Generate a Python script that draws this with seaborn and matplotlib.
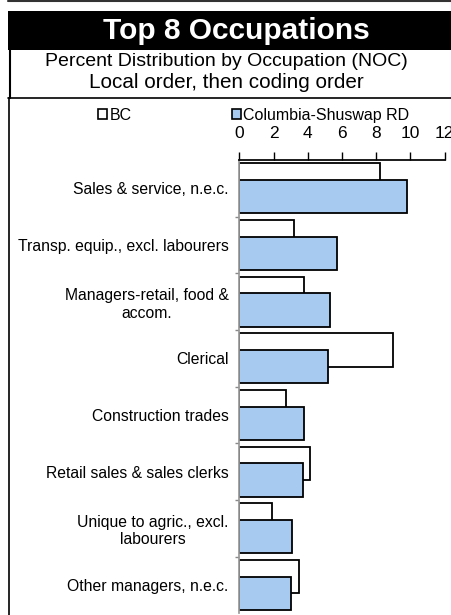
import pandas as pd
import matplotlib.pyplot as plt
import seaborn as sns
from matplotlib.patches import Rectangle
from matplotlib.lines import Line2D

occupations = ['Sales & service, n.e.c.', 'Transp. equip., excl. labourers',
               'Managers-retail, food &\naccom.', 'Clerical', 'Construction trades',
               'Retail sales & sales clerks', 'Unique to agric., excl.\nlabourers',
               'Other managers, n.e.c.']
bc = [8.2, 3.2, 3.8, 9.0, 2.7, 4.1, 1.9, 3.5]
csrd = [9.8, 5.7, 5.3, 5.2, 3.8, 3.7, 3.1, 3.0]
series = ['BC', 'Columbia-Shuswap RD']
colors = ['white', '#A6CAF0']
xticks = [0, 2, 4, 6, 8, 10, 12]

sns.set_theme(style='white')
plt.rcParams['font.family'] = ['Liberation Sans', 'DejaVu Sans']
plt.rcParams['text.color'] = 'black'
plt.rcParams['xtick.labelcolor'] = 'black'
plt.rcParams['ytick.labelcolor'] = 'black'

# overlapping bars: each series shifted half a bar from the category centre
shift = 0.147
bar_w = 0.588
n = len(occupations)
df_bc = pd.DataFrame({'pos': [i - shift for i in range(n)], 'val': bc})
df_cs = pd.DataFrame({'pos': [i + shift for i in range(n)], 'val': csrd})

fig = plt.figure(figsize=(4.51, 6.15), dpi=100)
ax = fig.add_axes([239.5 / 451, 1 - 613.3 / 615, (444.6 - 239.5) / 451, 453.3 / 615])

sns.barplot(data=df_bc, x='val', y='pos', orient='y', native_scale=True, width=bar_w,
            color=colors[0], saturation=1, edgecolor='black', linewidth=1.3,
            errorbar=None, ax=ax)
sns.barplot(data=df_cs, x='val', y='pos', orient='y', native_scale=True, width=bar_w,
            color=colors[1], saturation=1, edgecolor='black', linewidth=1.3,
            errorbar=None, ax=ax)

ax.set_ylim(n - 0.5, -0.5)
ax.set_xlim(0, 12)
ax.xaxis.tick_top()
ax.set_xticks(xticks)
ax.set_xticklabels([str(t) for t in xticks], fontsize=12.5)
ax.tick_params(axis='x', direction='out', length=6, width=1, color='black', pad=8, top=True, bottom=False)
ax.set_yticks(range(n))
ax.set_yticklabels(occupations, fontsize=11.3, ha='right', multialignment='center')
ax.set_yticks([i + 0.5 for i in range(n - 1)], minor=True)
ax.tick_params(axis='y', which='major', length=0, pad=8)
ax.tick_params(axis='y', which='minor', length=3, color='#888888', left=True)
ax.set_xlabel('')
ax.set_ylabel('')
ax.spines['top'].set_visible(True)
ax.spines['top'].set_color('black')
ax.spines['left'].set_color('#999999')
ax.spines['right'].set_visible(False)
ax.spines['bottom'].set_visible(False)

# frame and header bands
fig.add_artist(Line2D([8 / 451, 1], [1 - 1 / 615, 1 - 1 / 615], color='#333333', lw=1.5))
fig.add_artist(Rectangle((8 / 451, 1 - 50 / 615), 1, 39 / 615, facecolor='black', edgecolor='none'))
fig.add_artist(Line2D([10 / 451, 10 / 451], [1 - 50 / 615, 1 - 98 / 615], color='black', lw=1.5))
fig.add_artist(Line2D([8 / 451, 1], [1 - 98 / 615, 1 - 98 / 615], color='black', lw=1.2))
fig.add_artist(Line2D([8.5 / 451, 8.5 / 451], [1 - 98 / 615, 0], color='black', lw=1.2))

fig.text(236 / 451, 1 - 31 / 615, 'Top 8 Occupations', color='white', fontsize=21.5,
         fontweight='bold', ha='center', va='center')
fig.text(226 / 451, 1 - 62 / 615, 'Percent Distribution by Occupation (NOC)', fontsize=14,
         ha='center', va='center')
fig.text(226 / 451, 1 - 82 / 615, 'Local order, then coding order', fontsize=14.9,
         ha='center', va='center')

handles = [Rectangle((0, 0), 1, 1, facecolor=c, edgecolor='black', lw=1.2) for c in colors]
fig.legend(handles, series, loc='center left', bbox_to_anchor=(98 / 451, 1 - 115.5 / 615),
           ncol=2, frameon=False, fontsize=11.5, handlelength=0.56, handleheight=0.56,
           handletextpad=0.15, columnspacing=6.3, borderpad=0, borderaxespad=0)

fig.savefig('out.png', dpi=100)
